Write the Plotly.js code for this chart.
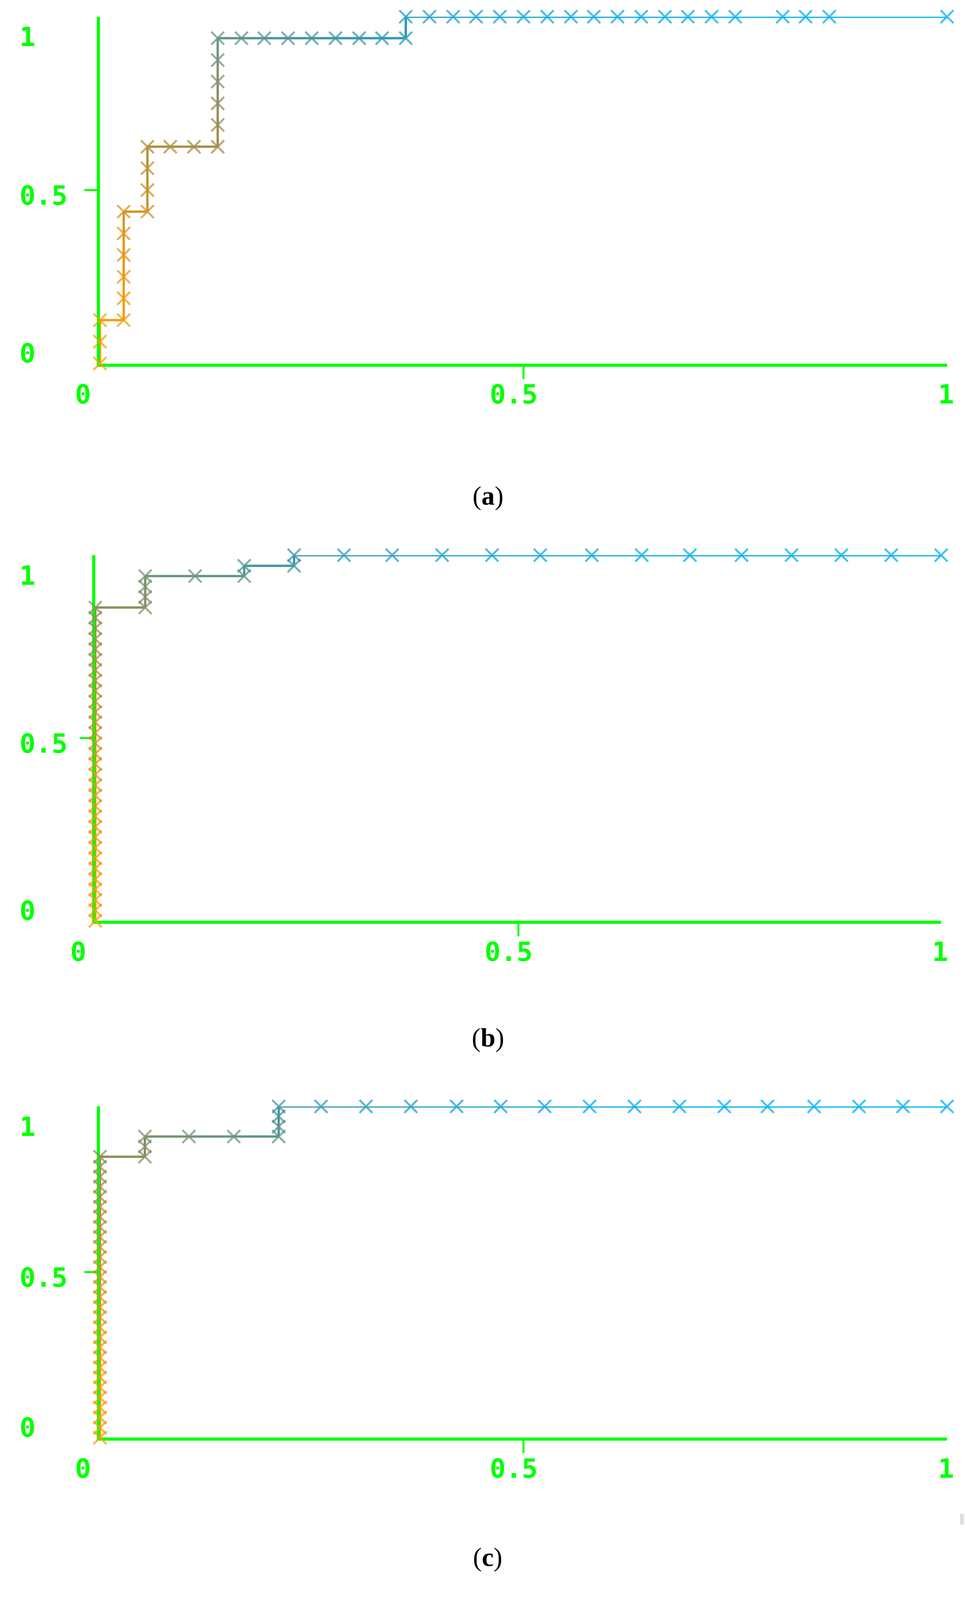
<!DOCTYPE html>
<html>
<head>
<meta charset="utf-8">
<script src="https://cdn.plot.ly/plotly-3.0.1.min.js"></script>
<style>html,body{margin:0;padding:0;background:#fff;overflow:hidden;}</style>
</head>
<body>
<div id="chart"></div>
<script>
// panel (a): false positive rate / true positive rate of each threshold
var fprA = [0, 0, 0, 0.028, 0.028, 0.028, 0.028, 0.028, 0.028, 0.056, 0.056, 0.056, 0.056,
    0.083, 0.111, 0.139, 0.139, 0.139, 0.139, 0.139, 0.139, 0.167, 0.194, 0.222, 0.250,
    0.278, 0.306, 0.333, 0.361, 0.361, 0.389, 0.417, 0.444, 0.472, 0.500, 0.528, 0.556,
    0.583, 0.611, 0.639, 0.667, 0.694, 0.722, 0.750, 0.806, 0.833, 0.861, 1.000];
var tprA = [0, 0.063, 0.125, 0.125, 0.188, 0.250, 0.313, 0.375, 0.438, 0.438, 0.500, 0.563, 0.625,
    0.625, 0.625, 0.625, 0.688, 0.750, 0.813, 0.875, 0.938, 0.938, 0.938, 0.938, 0.938,
    0.938, 0.938, 0.938, 0.938, 1, 1, 1, 1, 1, 1, 1, 1,
    1, 1, 1, 1, 1, 1, 1, 1, 1, 1, 1];

// panel (b)
var fprB = [0, 0, 0, 0, 0, 0, 0, 0, 0, 0, 0, 0, 0, 0, 0, 0, 0, 0, 0, 0, 0, 0, 0, 0, 0, 0, 0, 0, 0, 0, 0,
    0.059, 0.059, 0.059, 0.059, 0.118, 0.176, 0.176, 0.235, 0.235,
    0.294, 0.351, 0.410, 0.469, 0.526, 0.587, 0.646, 0.703, 0.764, 0.823, 0.882, 0.941, 1.000];
var tprB = [0, 0.029, 0.057, 0.086, 0.114, 0.143, 0.171, 0.200, 0.229, 0.257, 0.286, 0.314, 0.343,
    0.371, 0.400, 0.429, 0.457, 0.486, 0.514, 0.543, 0.571, 0.600, 0.629, 0.657, 0.686,
    0.714, 0.743, 0.771, 0.800, 0.829, 0.857,
    0.857, 0.886, 0.914, 0.943, 0.943, 0.943, 0.971, 0.971, 1,
    1, 1, 1, 1, 1, 1, 1, 1, 1, 1, 1, 1, 1];

// panel (c)
var fprC = [0, 0, 0, 0, 0, 0, 0, 0, 0, 0, 0, 0, 0, 0, 0, 0, 0, 0, 0, 0, 0, 0, 0, 0, 0, 0, 0, 0, 0,
    0.053, 0.053, 0.053, 0.105, 0.158, 0.211, 0.211, 0.211, 0.211,
    0.261, 0.314, 0.367, 0.421, 0.473, 0.525, 0.578, 0.631, 0.684, 0.737, 0.788, 0.843,
    0.896, 0.948, 1.000];
var tprC = [0, 0.030, 0.061, 0.091, 0.121, 0.152, 0.182, 0.212, 0.242, 0.273, 0.303, 0.333,
    0.364, 0.394, 0.424, 0.455, 0.485, 0.515, 0.545, 0.576, 0.606, 0.636, 0.667, 0.697,
    0.727, 0.758, 0.788, 0.818, 0.848,
    0.848, 0.879, 0.909, 0.909, 0.909, 0.909, 0.939, 0.970, 1,
    1, 1, 1, 1, 1, 1, 1, 1, 1, 1, 1, 1, 1, 1, 1];

var tickVals = [0, 0.5, 1];
var tickText = ['0', '0.5', '1'];
var captions = ['a', 'b', 'c'];

// the figure was laid out on a 2471 x 4415 page; the browser may give a shorter view,
// so vertical positions are squeezed to whatever height is really there
var W = 2471, REF_H = 4415;
var H = Math.min(window.innerHeight || REF_H, REF_H);
var f = H / REF_H;
document.getElementById('chart').style.width = W + 'px';
document.getElementById('chart').style.height = H + 'px';

var green = '#00ff00';
var monoFont = 'DejaVu Sans Mono, Liberation Mono, monospace';

// plot areas in reference page pixels: left, top, right, bottom
var boxes = [[256, 46, 2425, 1003], [244, 1532, 2410, 2541], [256, 3053, 2425, 3967]];
var captionY = [1368, 2863, 4296];
// the old plotting tool puts its labels a bit off the ticks
var xLabelShift = [-44, -25, -3];
var yLabelShift = [28, -15, -56];

// colour along the curve, orange at the start to blue at the end
var stops = [
    [0.00, 255, 160, 0],
    [0.20, 225, 150, 25],
    [0.30, 190, 145, 50],
    [0.42, 150, 140, 85],
    [0.52, 112, 148, 125],
    [0.62, 55, 150, 172],
    [0.75, 15, 165, 218],
    [0.85, 0, 174, 238],
    [1.00, 0, 176, 240]
];
function ramp(s, a) {
    s = Math.max(0, Math.min(1, s));
    for (var i = 1; i < stops.length; i++) {
        if (s <= stops[i][0]) {
            var p = stops[i - 1], q = stops[i];
            var t = (s - p[0]) / (q[0] - p[0]);
            var c = [1, 2, 3].map(function (k) { return Math.round(p[k] + (q[k] - p[k]) * t); });
            return 'rgba(' + c[0] + ',' + c[1] + ',' + c[2] + ',' + a + ')';
        }
    }
    return 'rgba(0,176,240,' + a + ')';
}
function py(v) { return 1 - v * f / H; }

var panels = [[fprA, tprA], [fprB, tprB], [fprC, tprC]];
var data = [];
var annotations = [];
var layout = {
    width: W, height: H,
    margin: {l: 0, r: 0, t: 0, b: 0},
    paper_bgcolor: '#ffffff',
    plot_bgcolor: 'rgba(0,0,0,0)',
    showlegend: false,
    shapes: [{type: 'rect', xref: 'paper', yref: 'paper',
        x0: 2458 / W, x1: 2468 / W, y0: py(4207), y1: py(4177),
        fillcolor: '#dde0e6', line: {width: 0}}]
};

panels.forEach(function (p, k) {
    var xs = p[0], ys = p[1];
    var n = k === 0 ? '' : String(k + 1);
    var xa = 'x' + n, ya = 'y' + n;
    var b = boxes[k];

    for (var i = 0; i < xs.length - 1; i++) {
        var s = (xs[i] + ys[i] + xs[i + 1] + ys[i + 1]) / 4;
        data.push({
            x: [xs[i], xs[i + 1]], y: [ys[i], ys[i + 1]],
            xaxis: xa, yaxis: ya, mode: 'lines',
            line: {color: ramp(s, 1), width: 6},
            cliponaxis: false, hoverinfo: 'skip'
        });
    }
    var cols = xs.map(function (x, i) { return ramp((x + ys[i]) / 2, 0.75); });
    data.push({
        x: xs, y: ys, xaxis: xa, yaxis: ya, mode: 'markers',
        marker: {symbol: 'x-thin', size: 33, color: cols, line: {color: cols, width: 5}},
        cliponaxis: false, hoverinfo: 'skip'
    });

    var common = {
        range: [0, 1], showline: true, linecolor: green, linewidth: 8,
        layer: 'below traces', showgrid: false, zeroline: false,
        showticklabels: false, ticks: '', fixedrange: true,
        minor: {tickmode: 'array', tickvals: [0.5], ticks: 'outside',
            ticklen: 32, tickwidth: 5, tickcolor: green}
    };
    layout['xaxis' + n] = Object.assign({}, common, {
        domain: [b[0] / W, b[2] / W], anchor: ya
    });
    layout['yaxis' + n] = Object.assign({}, common, {
        domain: [py(b[3]), py(b[1])], anchor: xa
    });

    tickVals.forEach(function (v, j) {
        annotations.push({
            xref: xa, yref: ya, x: v, y: 0, text: tickText[j],
            xshift: xLabelShift[j], yshift: -85 * f, showarrow: false,
            xanchor: 'center', yanchor: 'middle',
            font: {family: monoFont, size: 68, color: green, weight: 700}
        });
        annotations.push({
            xref: 'paper', yref: ya, x: 48 / W, y: v, text: tickText[j],
            yshift: yLabelShift[j] * f, showarrow: false,
            xanchor: 'left', yanchor: 'middle',
            font: {family: monoFont, size: 68, color: green, weight: 700}
        });
    });

    annotations.push({
        xref: 'paper', yref: 'paper', x: 1249 / W, y: py(captionY[k]),
        text: '(<b>' + captions[k] + '</b>)', showarrow: false,
        xanchor: 'center', yanchor: 'middle',
        font: {family: 'Liberation Serif, DejaVu Serif, serif', size: 68, color: '#000000'}
    });
});

layout.annotations = annotations;
data.forEach(function (t) { t.showlegend = false; });

Plotly.newPlot('chart', data, layout, {staticPlot: true});
</script>
</body>
</html>
